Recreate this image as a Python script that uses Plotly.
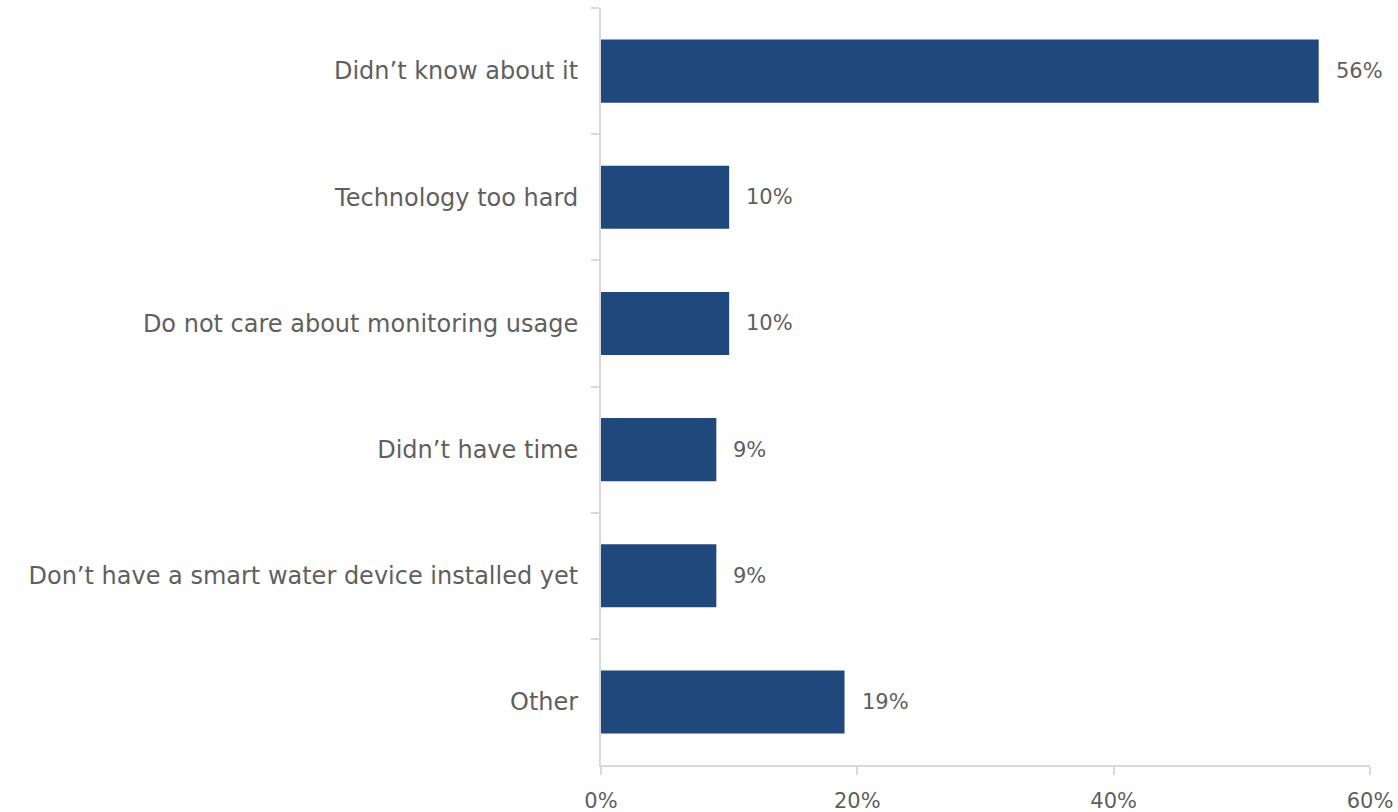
import plotly.graph_objects as go

categories = [
    "Didn’t know about it",
    "Technology too hard",
    "Do not care about monitoring usage",
    "Didn’t have time",
    "Don’t have a smart water device installed yet",
    "Other",
]
values = [56, 10, 10, 9, 9, 19]
x_ticks = [0, 20, 40, 60]
x_tick_labels = ["0%", "20%", "40%", "60%"]

FONT = "DejaVu Sans"
TEXT = "#5f5f5f"
AXIS = "#D9D9D9"
BAR = "#1F497D"

fig = go.Figure(
    go.Bar(
        x=values,
        y=categories,
        orientation="h",
        width=0.5,
        marker=dict(color=BAR, line=dict(width=0)),
        hoverinfo="skip",
    )
)

for cat, v in zip(categories, values):
    fig.add_annotation(
        x=v, y=cat, text=f"{v}%", showarrow=False,
        xanchor="left", yanchor="middle", xshift=15,
        font=dict(family=FONT, size=21, color=TEXT),
    )

fig.update_layout(
    width=1398, height=812,
    margin=dict(l=601, r=28, t=8, b=47),
    plot_bgcolor="white", paper_bgcolor="white",
    showlegend=False,
    bargap=0.5,
)
fig.update_xaxes(
    range=[0, 60], tickvals=x_ticks, ticktext=x_tick_labels,
    automargin=False,
    showgrid=False, zeroline=False,
    showline=True, linecolor=AXIS, linewidth=2,
    ticks="outside", ticklen=8, tickcolor=AXIS, tickwidth=1.5,
    ticklabelstandoff=8,
    tickfont=dict(family=FONT, size=21, color=TEXT),
)
fig.update_yaxes(
    categoryorder="array", categoryarray=categories,
    autorange="reversed", automargin=False,
    showgrid=False, zeroline=False,
    showline=True, linecolor=AXIS, linewidth=2,
    ticks="outside", ticklen=8, tickcolor=AXIS, tickwidth=1.5,
    tickson="boundaries", ticklabelstandoff=16,
    tickfont=dict(family=FONT, size=24, color=TEXT),
)

fig.write_html("out.html")
